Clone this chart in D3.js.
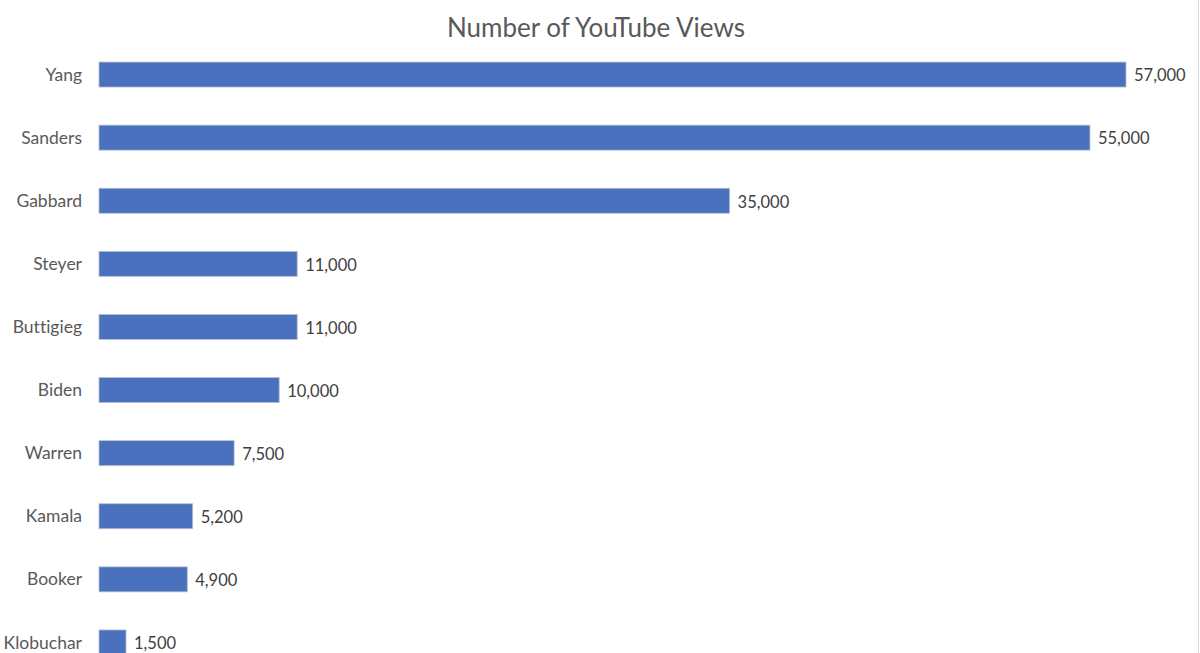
<!DOCTYPE html>
<html>
<head>
<meta charset="utf-8">
<script src="https://cdn.jsdelivr.net/npm/d3@7"></script>
<style>
  html, body { margin: 0; padding: 0; background: #fff; }
  svg { display: block; font-family: Lato, "Open Sans", sans-serif; font-variant-ligatures: none; }
  .title { fill: #595959; font-size: 26px; }
  .cat { fill: #595959; font-size: 17.5px; font-family: Lato, "Open Sans", sans-serif; font-variant-ligatures: none; }
  .val { fill: #404040; font-size: 16.5px; }
</style>
</head>
<body>
<div id="chart"></div>
<script>
// Data
var candidates = ['Yang', 'Sanders', 'Gabbard', 'Steyer', 'Buttigieg', 'Biden', 'Warren', 'Kamala', 'Booker', 'Klobuchar'];
var views = [57000, 55000, 35000, 11000, 11000, 10000, 7500, 5200, 4900, 1500];
var chartTitle = 'Number of YouTube Views';

(function () {
  var width = 1200;
  var height = 653;

  var svg = d3.select('#chart')
    .append('svg')
    .attr('width', width)
    .attr('height', height);

  // chart border on the right edge
  svg.append('line')
    .attr('x1', 1198.5).attr('x2', 1198.5)
    .attr('y1', 0).attr('y2', height)
    .attr('stroke', '#d9d9d9');

  var x = d3.scaleLinear()
    .domain([0, 57000])
    .range([99, 1126]);

  var y = d3.scaleBand()
    .domain(candidates)
    .range([43, 674])
    .paddingInner(0.604)
    .paddingOuter(0.302);

  svg.append('text')
    .attr('class', 'title')
    .attr('x', 596)
    .attr('y', 37)
    .attr('text-anchor', 'middle')
    .text(chartTitle);

  var rows = candidates.map(function (c, i) { return { name: c, value: views[i] }; });

  svg.selectAll('.bar')
    .data(rows)
    .enter()
    .append('rect')
    .attr('class', 'bar')
    .attr('x', x(0))
    .attr('y', function (d) { return y(d.name); })
    .attr('width', function (d) { return x(d.value) - x(0); })
    .attr('height', y.bandwidth())
    .attr('fill', '#4a71bd')
    .attr('stroke', '#b8bfcc')
    .attr('stroke-width', 0.8);

  // category labels (y axis, no line or ticks)
  var yAxis = svg.append('g')
    .attr('transform', 'translate(' + (x(0) - 17) + ',0)')
    .call(d3.axisLeft(y).tickSize(0).tickPadding(0));
  yAxis.attr('font-family', null).attr('font-size', null);
  yAxis.select('.domain').remove();
  yAxis.selectAll('text')
    .attr('class', 'cat')
    .attr('fill', null)
    .attr('dy', '0.35em');

  var fmt = d3.format(',');
  svg.selectAll('.val')
    .data(rows)
    .enter()
    .append('text')
    .attr('class', 'val')
    .attr('x', function (d) { return x(d.value) + 8; })
    .attr('y', function (d) { return y(d.name) + y.bandwidth() / 2 + 1; })
    .attr('dy', '0.35em')
    .text(function (d) { return fmt(d.value); });
})();
</script>
</body>
</html>
